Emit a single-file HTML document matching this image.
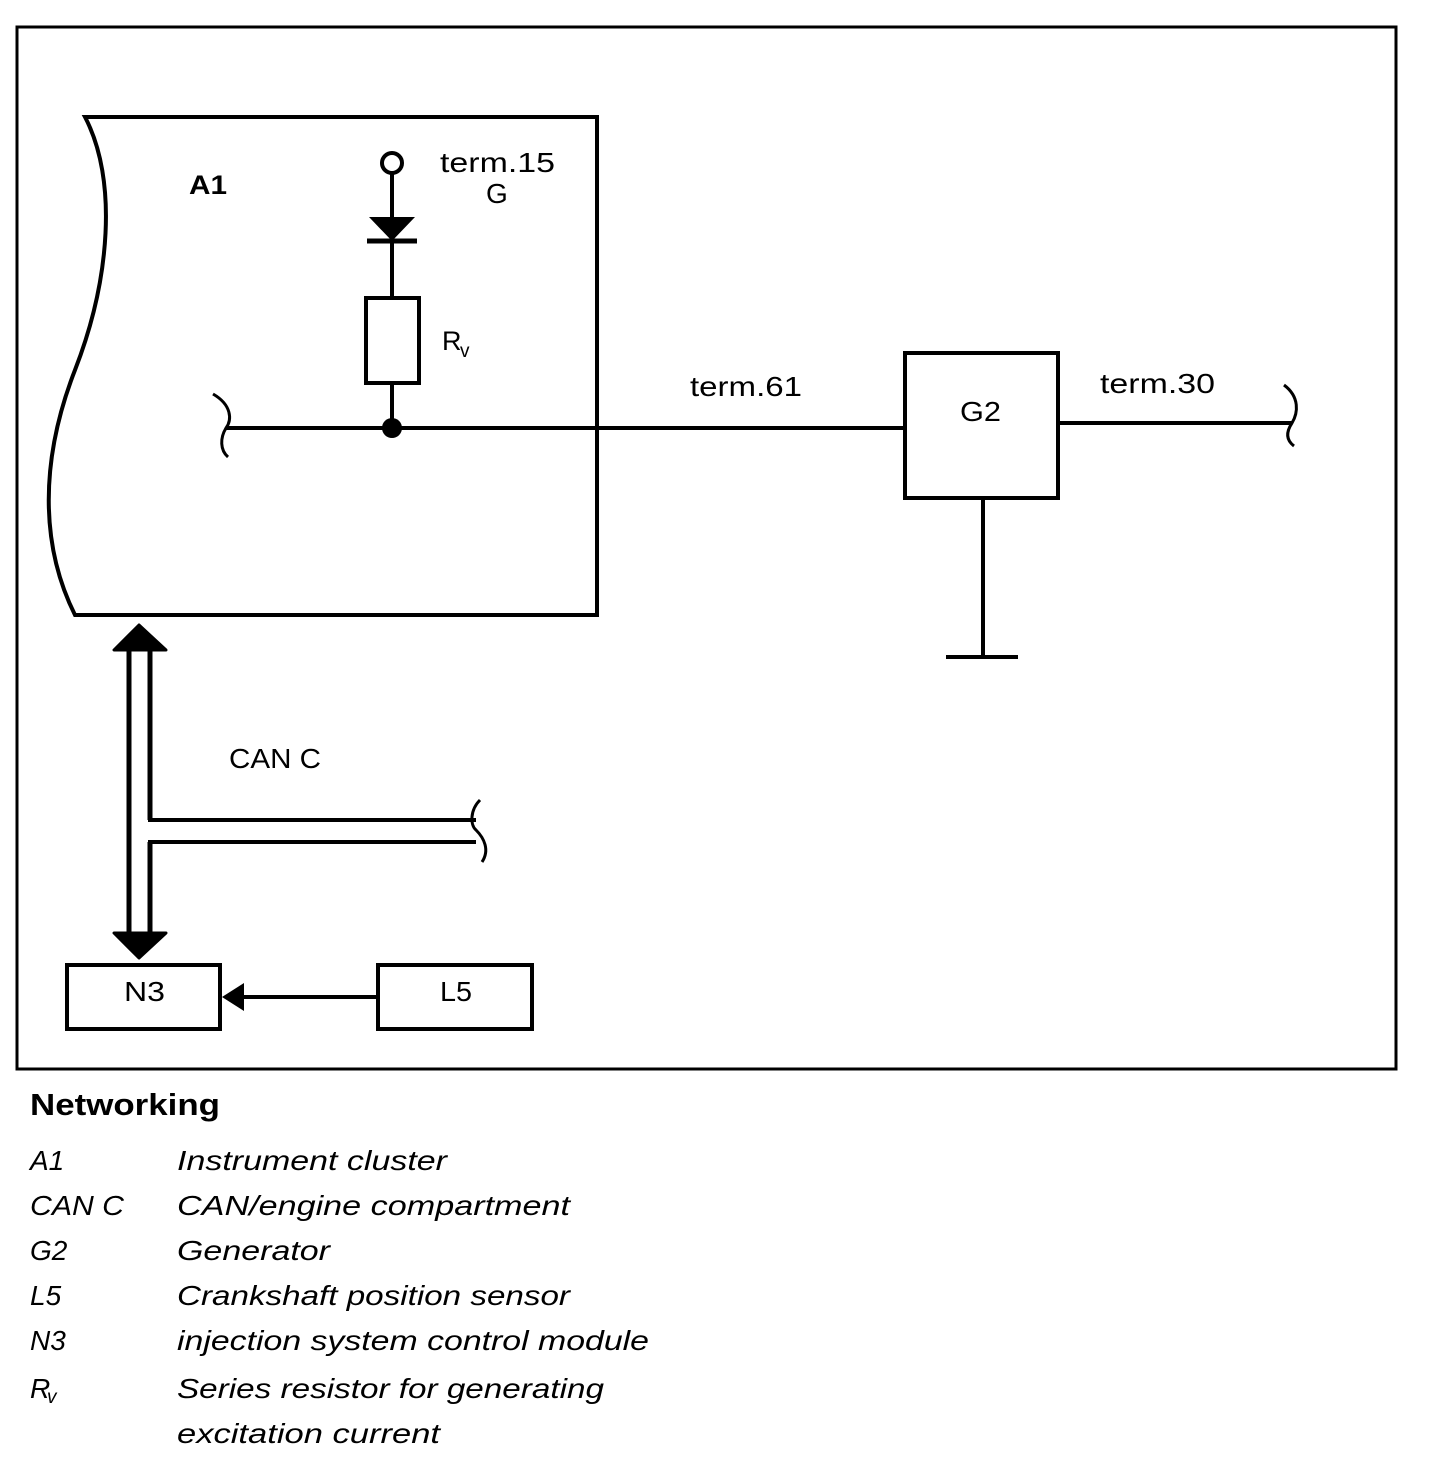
<!DOCTYPE html>
<html><head><meta charset="utf-8"><style>
html,body{margin:0;padding:0;background:#fff;}
svg{display:block;}
text{font-family:"Liberation Sans",sans-serif;fill:#000;}
</style></head><body>
<svg width="1456" height="1478" viewBox="0 0 1456 1478" xmlns="http://www.w3.org/2000/svg">
<rect x="17" y="27" width="1379" height="1042" fill="none" stroke="#000" stroke-width="3"/>
<path d="M85,117 L597,117 L597,615 L75,615 C40,545 40,460 75,370 C110,280 118,180 85,117 Z" fill="none" stroke="#000" stroke-width="4"/>
<text x="189" y="194" font-size="27" font-weight="bold" textLength="38" lengthAdjust="spacingAndGlyphs">A1</text>
<circle cx="392" cy="163" r="10" fill="#fff" stroke="#000" stroke-width="4"/>
<line x1="392" y1="173" x2="392" y2="298" stroke="#000" stroke-width="4"/>
<polygon points="369,217 415,217 392,241" fill="#000"/>
<line x1="367" y1="241" x2="417" y2="241" stroke="#000" stroke-width="5"/>
<rect x="366" y="298" width="53" height="85" fill="#fff" stroke="#000" stroke-width="4"/>
<line x1="392" y1="383" x2="392" y2="428" stroke="#000" stroke-width="4"/>
<circle cx="392" cy="428" r="10" fill="#000"/>
<text x="440" y="172" font-size="28" textLength="115" lengthAdjust="spacingAndGlyphs">term.15</text>
<text x="486" y="203" font-size="28">G</text>
<text x="442" y="350" font-size="27">R</text><text x="460" y="357" font-size="19">v</text>
<line x1="226" y1="428" x2="905" y2="428" stroke="#000" stroke-width="4"/>
<path d="M213,394 C232,405 232,420 226,428 C220,438 220,450 228,457" fill="none" stroke="#000" stroke-width="3"/>
<text x="690" y="396" font-size="28" textLength="112" lengthAdjust="spacingAndGlyphs">term.61</text>
<rect x="905" y="353" width="153" height="145" fill="none" stroke="#000" stroke-width="4"/>
<text x="960" y="421" font-size="28" textLength="41" lengthAdjust="spacingAndGlyphs">G2</text>
<line x1="1058" y1="423" x2="1292" y2="423" stroke="#000" stroke-width="4"/>
<path d="M1284,385 C1300,397 1298,413 1292,423 C1286,432 1286,440 1294,446" fill="none" stroke="#000" stroke-width="3"/>
<text x="1100" y="393" font-size="28" textLength="115" lengthAdjust="spacingAndGlyphs">term.30</text>
<line x1="983" y1="498" x2="983" y2="657" stroke="#000" stroke-width="4"/>
<line x1="946" y1="657" x2="1018" y2="657" stroke="#000" stroke-width="4"/>
<polygon points="139,625 114,650 166,650" fill="#000" stroke="#000" stroke-width="3" stroke-linejoin="round"/>
<polygon points="139,958 114,933 166,933" fill="#000" stroke="#000" stroke-width="3" stroke-linejoin="round"/>
<line x1="129" y1="648" x2="129" y2="935" stroke="#000" stroke-width="5"/>
<line x1="150" y1="648" x2="150" y2="820" stroke="#000" stroke-width="5"/>
<line x1="150" y1="842" x2="150" y2="935" stroke="#000" stroke-width="5"/>
<line x1="148" y1="820" x2="476" y2="820" stroke="#000" stroke-width="4"/>
<line x1="148" y1="842" x2="476" y2="842" stroke="#000" stroke-width="4"/>
<path d="M480,800 C470,810 470,825 476,830 C484,838 490,850 482,862" fill="none" stroke="#000" stroke-width="3"/>
<text x="229" y="768" font-size="28" textLength="92" lengthAdjust="spacingAndGlyphs">CAN C</text>
<rect x="67" y="965" width="153" height="64" fill="none" stroke="#000" stroke-width="4"/>
<text x="124" y="1001" font-size="28" textLength="41" lengthAdjust="spacingAndGlyphs">N3</text>
<rect x="378" y="965" width="154" height="64" fill="none" stroke="#000" stroke-width="4"/>
<text x="440" y="1001" font-size="28" textLength="32" lengthAdjust="spacingAndGlyphs">L5</text>
<line x1="240" y1="997" x2="378" y2="997" stroke="#000" stroke-width="4"/>
<polygon points="222,997 244,983 244,1011" fill="#000"/>
<text x="30" y="1115" font-size="31" font-weight="bold" textLength="190" lengthAdjust="spacingAndGlyphs">Networking</text>
<g font-size="28" font-style="italic">
<text x="30" y="1170">A1</text>
<text x="177" y="1170" textLength="270" lengthAdjust="spacingAndGlyphs">Instrument cluster</text>
<text x="30" y="1215" textLength="94" lengthAdjust="spacingAndGlyphs">CAN C</text>
<text x="177" y="1215" textLength="393" lengthAdjust="spacingAndGlyphs">CAN/engine compartment</text>
<text x="30" y="1260">G2</text>
<text x="177" y="1260" textLength="153" lengthAdjust="spacingAndGlyphs">Generator</text>
<text x="30" y="1305">L5</text>
<text x="177" y="1305" textLength="393" lengthAdjust="spacingAndGlyphs">Crankshaft position sensor</text>
<text x="30" y="1350">N3</text>
<text x="177" y="1350" textLength="472" lengthAdjust="spacingAndGlyphs">injection system control module</text>
<text x="30" y="1398">R</text><text x="47" y="1403" font-size="19">v</text>
<text x="177" y="1398" textLength="427" lengthAdjust="spacingAndGlyphs">Series resistor for generating</text>
<text x="177" y="1443" textLength="263" lengthAdjust="spacingAndGlyphs">excitation current</text>
</g>
</svg>
</body></html>
